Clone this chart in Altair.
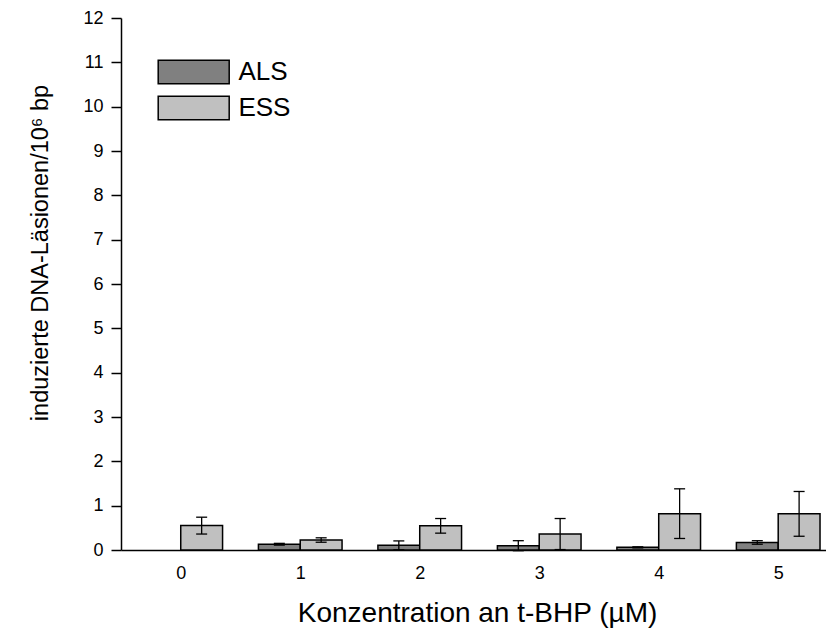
import altair as alt
import pandas as pd

# ---- data ----
categories = [0, 1, 2, 3, 4, 5]
als_mean = [None, 0.13, 0.105, 0.097, 0.06, 0.17]
als_err = [None, 0.02, 0.10, 0.113, 0.012, 0.04]
ess_mean = [0.55, 0.225, 0.545, 0.36, 0.82, 0.815]
ess_err = [0.19, 0.05, 0.165, 0.35, 0.56, 0.505]
series = ["ALS", "ESS"]
colors = ["#808080", "#c0c0c0"]
y_ticks = [i * 0.5 for i in range(25)]

rows = []
for c, m, e in zip(categories, als_mean, als_err):
    if m is not None:
        rows.append({"cat": c, "series": "ALS", "mean": m, "err": e})
for c, m, e in zip(categories, ess_mean, ess_err):
    if m is not None:
        rows.append({"cat": c, "series": "ESS", "mean": m, "err": e})
df = pd.DataFrame(rows)

FONT = "Liberation Sans"
BW = 0.35

base = alt.Chart(df).transform_calculate(
    x0=f"datum.series === 'ALS' ? datum.cat - {BW} : datum.cat",
    x1=f"datum.series === 'ALS' ? datum.cat : datum.cat + {BW}",
    xc=f"datum.series === 'ALS' ? datum.cat - {BW/2} : datum.cat + {BW/2}",
    lo="datum.mean - datum.err",
    hi="datum.mean + datum.err",
)

xscale = alt.Scale(domain=[-0.5, 5.4], nice=False, zero=False)
yscale = alt.Scale(domain=[0, 12], nice=False)

x_axis = alt.Axis(
    values=categories, format="d", ticks=False, grid=False,
    domainColor="black", domainWidth=1.5,
    labelFont=FONT, labelFontSize=18, labelColor="black", labelPadding=14,
    title="Konzentration an t-BHP (µM)", titleFont=FONT, titleFontSize=28,
    titleFontWeight="normal", titleColor="black",
    titleX=356, titleY=71.7, titleBaseline="alphabetic", titleAlign="center",
)
y_axis = alt.Axis(
    values=y_ticks, grid=False,
    labelExpr="datum.value % 1 === 0 ? datum.label : ''",
    tickSize={"condition": {"test": "datum.value % 1 === 0", "value": 10}, "value": 5},
    tickColor="black", tickWidth=1.5,
    domainColor="black", domainWidth=1.5,
    labelFont=FONT, labelFontSize=18, labelColor="black", labelPadding=8,
    title="induzierte DNA-Läsionen/10⁶ bp", titleFont=FONT, titleFontSize=23.5,
    titleFontWeight="normal", titleColor="black",
    titleAngle=270, titleX=-74, titleY=234.5, titleBaseline="alphabetic",
    titleAlign="center",
)

# legend swatch: wide rectangle (3:1) drawn with a custom symbol path
bars = base.mark_bar(stroke="black", strokeWidth=1.5).encode(
    x=alt.X("x0:Q", scale=xscale, axis=x_axis),
    x2="x1:Q",
    y=alt.Y("mean:Q", scale=yscale, axis=y_axis, stack=None),
    y2=alt.datum(0),
    color=alt.Color(
        "series:N",
        scale=alt.Scale(domain=series, range=colors),
        legend=alt.Legend(
            title=None, orient="none", legendX=59.7, legendY=41,
            symbolType="M-3,-1H3V1H-3Z", symbolSize=560,
            symbolStrokeColor="black", symbolStrokeWidth=1.5, symbolOpacity=1,
            labelFont=FONT, labelFontSize=26, labelColor="black", labelOffset=31.7,
            padding=0, rowPadding=6,
        ),
    ),
)

rule = base.mark_rule(color="black", strokeWidth=1.3).encode(
    x=alt.X("xc:Q", scale=xscale),
    y=alt.Y("lo:Q", scale=yscale),
    y2="hi:Q",
)
cap_hi = base.mark_tick(orient="horizontal", size=11, thickness=1.3, color="black", opacity=1).encode(
    x=alt.X("xc:Q", scale=xscale),
    y=alt.Y("hi:Q", scale=yscale),
)
cap_lo = base.mark_tick(orient="horizontal", size=11, thickness=1.3, color="black", opacity=1).encode(
    x=alt.X("xc:Q", scale=xscale),
    y=alt.Y("lo:Q", scale=yscale),
)

chart = (
    alt.layer(bars, rule, cap_hi, cap_lo)
    .properties(
        width=705, height=532,
        autosize=alt.AutoSizeParams(type="none"),
        padding={"left": 121, "top": 18, "right": 0, "bottom": 80},
        background="white",
    )
    .configure_view(stroke=None)
)

chart.save("out.html", embed_options={"renderer": "svg", "actions": False})
